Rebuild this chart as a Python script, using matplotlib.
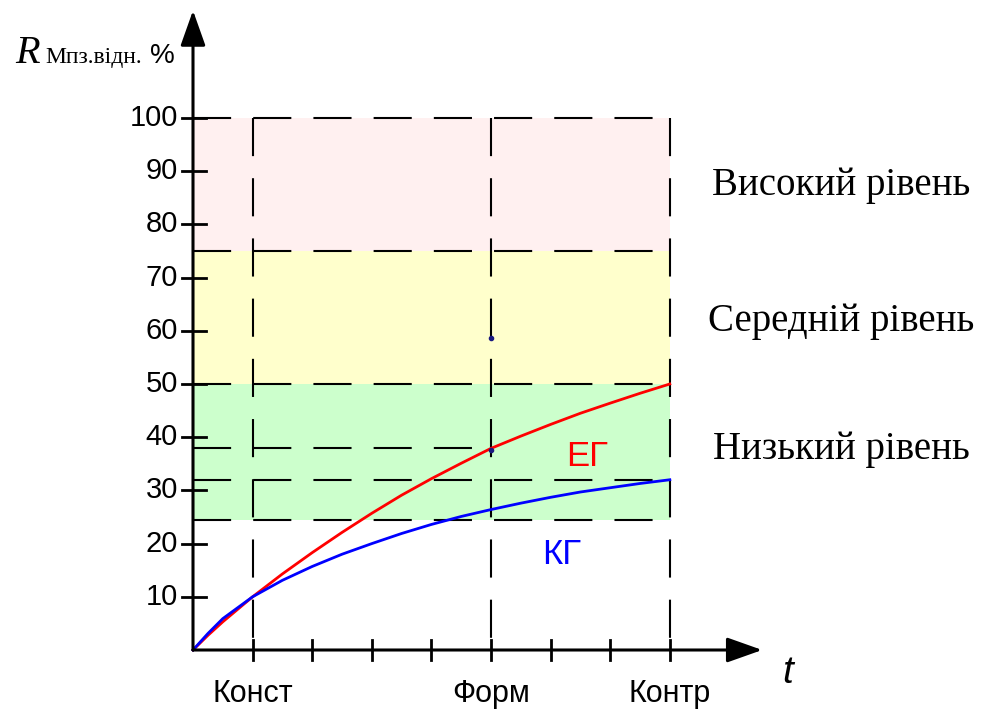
import matplotlib.pyplot as plt

# stages on the time axis (tick index)
stage_x = [1, 5, 8]
stage_labels = ['Конст', 'Форм', 'Контр']

y_ticks = [10, 20, 30, 40, 50, 60, 70, 80, 90, 100]

# level bands (lower, upper, colour, label)
band_low = [24.4, 50, 75]
band_high = [50, 75, 100]
band_colors = ['#ccffcc', '#ffffcc', '#fff0f0']
band_labels = ['Низький рівень', 'Середній рівень', 'Високий рівень']
band_label_y = [37.6, 61.7, 87.4]

# curves
t_pts = [0, 0.25, 0.5, 1, 1.5, 2, 2.5, 3, 3.5, 4, 4.5, 5, 5.5, 6, 6.5, 7, 7.5, 8]
eg_vals = [0, 2.75, 5.3, 10, 14.3, 18.3, 22.1, 25.7, 29.1, 32.2, 35.1, 37.9,
           40.2, 42.4, 44.5, 46.4, 48.25, 50]
kg_vals = [0, 3.1, 5.9, 10, 13.1, 15.7, 18.0, 20.0, 21.9, 23.6, 25.1, 26.4,
           27.6, 28.7, 29.7, 30.5, 31.3, 32.0]

# dashed reference levels: (value, x end)
ref_levels = [100, 75, 50, 38, 32, 24.4]
ref_ends = [8, 8, 8, 5, 8, 8]

# stray points visible at Form line
dot_y = [58.6, 37.6]

W, H = 996, 711
x0, y0 = 193, 650
px_x, px_y = 59.6, 5.32

fig = plt.figure(figsize=(W / 100, H / 100), dpi=100)
ax = fig.add_axes([0, 0, 1, 1])
ax.set_xlim(-x0 / px_x, (W - x0) / px_x)
ax.set_ylim(-(H - y0) / px_y, y0 / px_y)
ax.axis('off')

for lo, hi, c in zip(band_low, band_high, band_colors):
    ax.fill_between([0, 8], lo, hi, color=c, lw=0, zorder=0)

dash = (0, (18.3, 10.6))
for v, xe in zip(ref_levels, ref_ends):
    ax.plot([0, xe], [v, v], color='black', lw=1.5, ls=dash, zorder=1)
for xv in stage_x:
    ax.plot([xv, xv], [100, 0], color='black', lw=1.5, ls=dash, zorder=1)

ax.plot(t_pts, eg_vals, color='#ff0000', lw=2, zorder=3)
ax.plot(t_pts, kg_vals, color='#0000ff', lw=2, zorder=3)
ax.plot([5, 5], dot_y, ls='none', marker='o', ms=3, color='#1a1a80', zorder=4)

# axes with arrows
arrow = dict(arrowstyle='-|>,head_length=1.55,head_width=0.55', color='black',
             lw=2.2, mutation_scale=14, shrinkA=0, shrinkB=0)
ax.annotate('', xy=(0, 120.2), xytext=(0, 0), arrowprops=arrow, zorder=5)
ax.annotate('', xy=(9.55, 0), xytext=(0, 0), arrowprops=arrow, zorder=5)

for v in y_ticks:
    ax.plot([-11 / px_x, 13 / px_x], [v, v], color='black', lw=2, zorder=5)
    ax.text(-15 / px_x, v, str(v), ha='right', va='center', fontsize=21,
            family='Liberation Sans')
for i in range(1, 9):
    ax.plot([i, i], [-10 / px_y, 10 / px_y], color='black', lw=2, zorder=5)
for xv, lab in zip(stage_x, stage_labels):
    ax.text(xv, -8.3, lab, ha='center', va='center', fontsize=22,
            family='Liberation Sans')

for lab, yv in zip(band_labels, band_label_y):
    ax.text(10.88, yv, lab, ha='center', va='center', fontsize=28,
            family='Liberation Serif')

ax.text(6.61, 36.4, 'ЕГ', color='#ff0000', ha='center', va='center',
        fontsize=25, family='Liberation Sans')
ax.text(6.19, 18.0, 'КГ', color='#0000ff', ha='center', va='center',
        fontsize=25, family='Liberation Sans')

ax.text(9.98, -4.3, 't', ha='center', va='center', fontsize=28,
        family='Liberation Sans', style='italic')

# y axis title
ax.text(-2.99, 110.3, 'R', ha='left', va='baseline', fontsize=29,
        family='Liberation Serif', style='italic')
ax.text(-2.48, 110.3, 'Мпз.відн.', ha='left', va='baseline', fontsize=17,
        family='Liberation Serif')
ax.text(-0.72, 110.3, '%', ha='left', va='baseline', fontsize=20,
        family='Liberation Sans')

fig.savefig('out.png', dpi=100)
